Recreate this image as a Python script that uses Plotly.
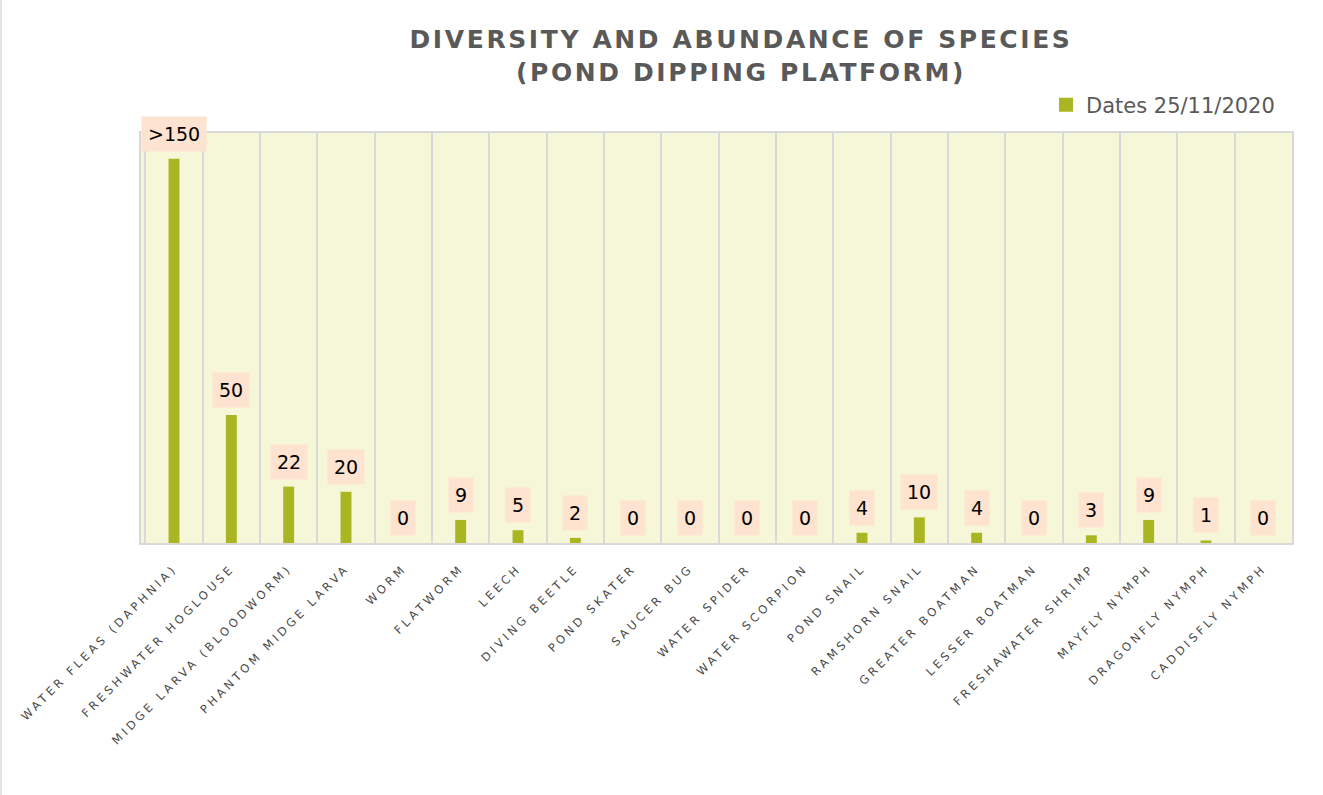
import plotly.graph_objects as go

species = [
    "WATER FLEAS (DAPHNIA)", "FRESHWATER HOGLOUSE", "MIDGE LARVA (BLOODWORM)",
    "PHANTOM MIDGE LARVA", "WORM", "FLATWORM", "LEECH", "DIVING BEETLE",
    "POND SKATER", "SAUCER BUG", "WATER SPIDER", "WATER SCORPION", "POND SNAIL",
    "RAMSHORN SNAIL", "GREATER BOATMAN", "LESSER BOATMAN", "FRESHAWATER SHRIMP",
    "MAYFLY NYMPH", "DRAGONFLY NYMPH", "CADDISFLY NYMPH",
]
counts = [150, 50, 22, 20, 0, 9, 5, 2, 0, 0, 0, 0, 4, 10, 4, 0, 3, 9, 1, 0]
count_labels = [">150", "50", "22", "20", "0", "9", "5", "2", "0", "0", "0", "0",
                "4", "10", "4", "0", "3", "9", "1", "0"]
series_name = "Dates 25/11/2020"
y_range = [0, 160]

BAR = "#A9B521"
BG = "#F6F7D8"
GRID = "#D9D9D9"
PEACH = "#FDE3D0"
GREY = "#595959"
FONT = "DejaVu Sans"

fig = go.Figure()
fig.add_trace(go.Bar(
    x=species, y=counts, name=series_name, width=0.19,
    marker=dict(color=BAR, line=dict(width=0)),
    showlegend=False,
))
# legend entry with a larger square swatch
fig.add_trace(go.Scatter(
    x=[None], y=[None], mode="markers", name=series_name,
    marker=dict(symbol="square", size=14, color=BAR), showlegend=True,
))

for s, v, t in zip(species, counts, count_labels):
    fig.add_annotation(
        x=s, y=v, text=t, showarrow=False, yanchor="bottom", yshift=7,
        bgcolor=PEACH, borderpad=6,
        font=dict(family=FONT, size=19, color="#000000"),
    )

fig.update_layout(
    width=1323, height=795,
    margin=dict(l=141, r=31, t=133, b=252, autoexpand=False),
    paper_bgcolor="white", plot_bgcolor=BG,
    font=dict(family=FONT, color=GREY),
    title=dict(
        text="DIVERSITY AND ABUNDANCE OF SPECIES<br>(POND DIPPING PLATFORM)",
        xref="container", x=741 / 1323, xanchor="center",
        yref="container", y=1 - 48 / 795, yanchor="top",
        font=dict(family=FONT, size=25, color=GREY, weight="bold"),
    ),
    showlegend=True,
    legend=dict(
        xref="container", x=1280 / 1323, xanchor="right",
        yref="container", y=1 - 105 / 795, yanchor="middle",
        orientation="h", font=dict(family=FONT, size=21, color=GREY),
        bgcolor="rgba(0,0,0,0)", itemwidth=30,
    ),
    xaxis=dict(
        type="category", tickson="boundaries", showgrid=True, gridcolor=GRID, gridwidth=2,
        showline=True, linecolor=GRID, linewidth=2, mirror=True,
        ticks="", tickangle=-45, ticklabelstandoff=12,
        tickfont=dict(family=FONT, size=11.5, color="#4A4A4A"),
    ),
    yaxis=dict(
        range=y_range, showgrid=False, zeroline=False, showticklabels=False,
        showline=True, linecolor=GRID, linewidth=2, mirror=True, ticks="",
    ),
    shapes=[dict(type="line", xref="paper", yref="paper",
                 x0=-140 / 1151, x1=-140 / 1151, y0=-252 / 410, y1=(410 + 133) / 410,
                 line=dict(color="#E3E3E3", width=2))],
)

post = """
var gd = document.getElementById('{plot_id}');
function ls(){
  gd.querySelectorAll('.xtick text').forEach(function(t){t.style.letterSpacing='3.4px';});
  gd.querySelectorAll('.gtitle').forEach(function(t){t.style.letterSpacing='2.6px';});
}
ls(); setTimeout(ls, 50); setTimeout(ls, 300);
if (gd.on) { gd.on('plotly_afterplot', ls); }
"""

fig.write_html("out.html", post_script=post)
